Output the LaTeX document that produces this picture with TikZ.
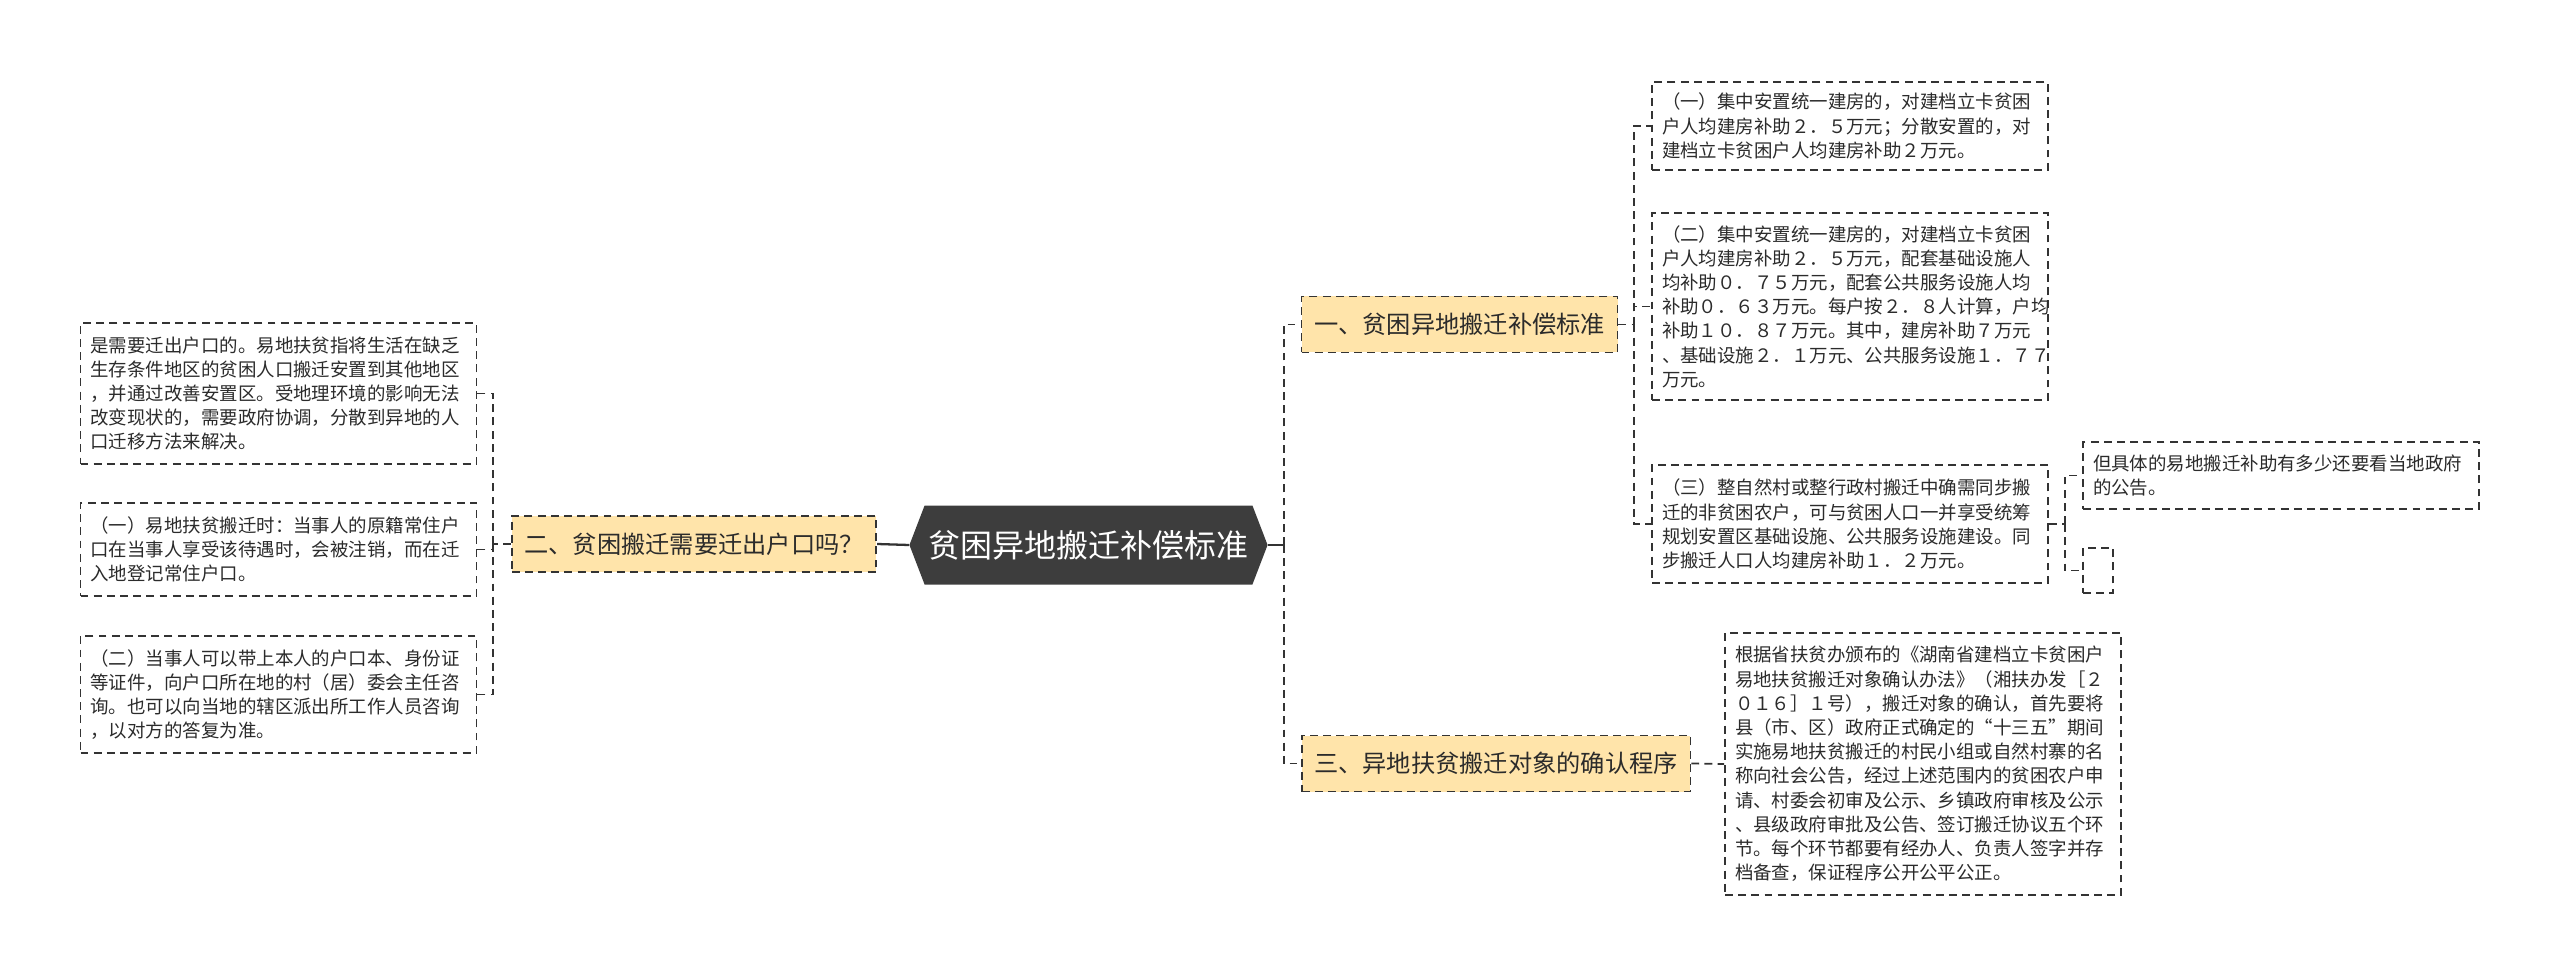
\documentclass[tikz,border=0pt]{standalone}
\usepackage{fontspec}
\usepackage{tikz}
\usetikzlibrary{shapes.symbols}
\newfontfamily\cjk{Noto Sans CJK SC}
\definecolor{mapdark}{HTML}{3D3D3D}
\definecolor{mapline}{HTML}{333333}
\definecolor{mapsand}{HTML}{FFE4AA}
\definecolor{maptext}{HTML}{2B2B2B}
\tikzset{
  dashbox/.style={draw=mapline, line width=1pt, dash pattern=on 4.5pt off 3pt},
  hub/.style={shape=signal, signal to=west and east, signal pointer angle=138,
              fill=mapdark, text=white, minimum height=1.58cm, inner xsep=0.08cm,
              font=\cjk\fontsize{18.2}{22}\selectfont},
  topic/.style={dashbox, fill=mapsand, text=maptext, minimum height=1.12cm,
                inner xsep=0.25cm, font=\cjk\fontsize{13.8}{16}\selectfont},
  leaf/.style={dashbox, fill=white, text=maptext, text width=7.52cm, inner xsep=0.2cm,
               inner ysep=4pt, align=left, font=\cjk\fontsize{10.5}{13.77}\selectfont},
  link/.style={draw=mapline, line width=1pt, dash pattern=on 4.5pt off 3pt},
  trunk/.style={draw=mapline, line width=1.3pt}
}
\begin{document}
\begin{tikzpicture}
  \useasboundingbox (0,0) rectangle (51.2,19.5);

  \node[hub] (mid) at (21.77, 8.60) {贫困异地搬迁补偿标准};

  \node[topic] (t2) at (13.88, 8.62) {二、贫困搬迁需要迁出户口吗？};
  \node[topic] (t1) at (29.19, 13.01) {一、贫困异地搬迁补偿标准};
  \node[topic] (t3) at (29.92, 4.23) {三、异地扶贫搬迁对象的确认程序};

  % left side
  \node[leaf, minimum height=2.82cm] (l1) at (5.57, 11.63) {是需要迁出户口的。易地扶贫指将生活在缺乏\\生存条件地区的贫困人口搬迁安置到其他地区\\，并通过改善安置区。受地理环境的影响无法\\改变现状的，需要政府协调，分散到异地的人\\口迁移方法来解决。};
  \node[leaf, minimum height=1.86cm] (l2) at (5.57, 8.51) {（一）易地扶贫搬迁时：当事人的原籍常住户\\口在当事人享受该待遇时，会被注销，而在迁\\入地登记常住户口。};
  \node[leaf, minimum height=2.34cm] (l3) at (5.57, 5.61) {（二）当事人可以带上本人的户口本、身份证\\等证件，向户口所在地的村（居）委会主任咨\\询。也可以向当地的辖区派出所工作人员咨询\\，以对方的答复为准。};

  % right side
  \node[leaf, minimum height=1.76cm] (r1) at (37.00, 16.98) {（一）集中安置统一建房的，对建档立卡贫困\\户人均建房补助２．５万元；分散安置的，对\\建档立卡贫困户人均建房补助２万元。};
  \node[leaf, minimum height=3.74cm] (r2) at (37.00, 13.37) {（二）集中安置统一建房的，对建档立卡贫困\\户人均建房补助２．５万元，配套基础设施人\\均补助０．７５万元，配套公共服务设施人均\\补助０．６３万元。每户按２．８人计算，户均\\补助１０．８７万元。其中，建房补助７万元\\、基础设施２．１万元、公共服务设施１．７７\\万元。};
  \node[leaf, minimum height=2.36cm] (r3) at (37.00, 9.02) {（三）整自然村或整行政村搬迁中确需同步搬\\迁的非贫困农户，可与贫困人口一并享受统筹\\规划安置区基础设施、公共服务设施建设。同\\步搬迁人口人均建房补助１．２万元。};
  \node[leaf, minimum height=1.34cm] (s1) at (45.62, 9.99) {但具体的易地搬迁补助有多少还要看当地政府\\的公告。};
  \node[dashbox, fill=white, minimum width=0.6cm, minimum height=0.9cm, inner sep=0pt] (s2) at (41.96, 8.09) {};
  \node[leaf, minimum height=5.24cm] (r4) at (38.46, 4.22) {根据省扶贫办颁布的《湖南省建档立卡贫困户\\易地扶贫搬迁对象确认办法》（湘扶办发［２\\０１６］１号），搬迁对象的确认，首先要将\\县（市、区）政府正式确定的“十三五”期间\\实施易地扶贫搬迁的村民小组或自然村寨的名\\称向社会公告，经过上述范围内的贫困农户申\\请、村委会初审及公示、乡镇政府审核及公示\\、县级政府审批及公告、签订搬迁协议五个环\\节。每个环节都要有经办人、负责人签字并存\\档备查，保证程序公开公平公正。};

  \coordinate (lj) at (9.86, 8.62);
  \coordinate (rj) at (25.68, 8.60);
  \coordinate (j1) at (32.68, 13.01);
  \coordinate (j3) at (41.30, 9.02);

  \draw[trunk] (mid.west) -- (t2.east);
  \draw[trunk] (mid.east) -- (rj);

  \draw[link] (t2.west) -- (lj);
  \draw[link] (lj) |- (l1.east);
  \draw[link] (lj) |- (l2.east);
  \draw[link] (lj) |- (l3.east);

  \draw[link] (rj) |- (t1.west);
  \draw[link] (rj) |- (t3.west);

  \draw[link] (t1.east) -- (j1);
  \draw[link] (j1) |- (r1.west);
  \draw[link] (j1) |- (r2.west);
  \draw[link] (j1) |- (r3.west);

  \draw[link] (r3.east) -- (j3);
  \draw[link] (j3) |- (s1.west);
  \draw[link] (j3) |- (s2.west);

  \draw[link] (t3.east) -- (r4.west);
\end{tikzpicture}
\end{document}
